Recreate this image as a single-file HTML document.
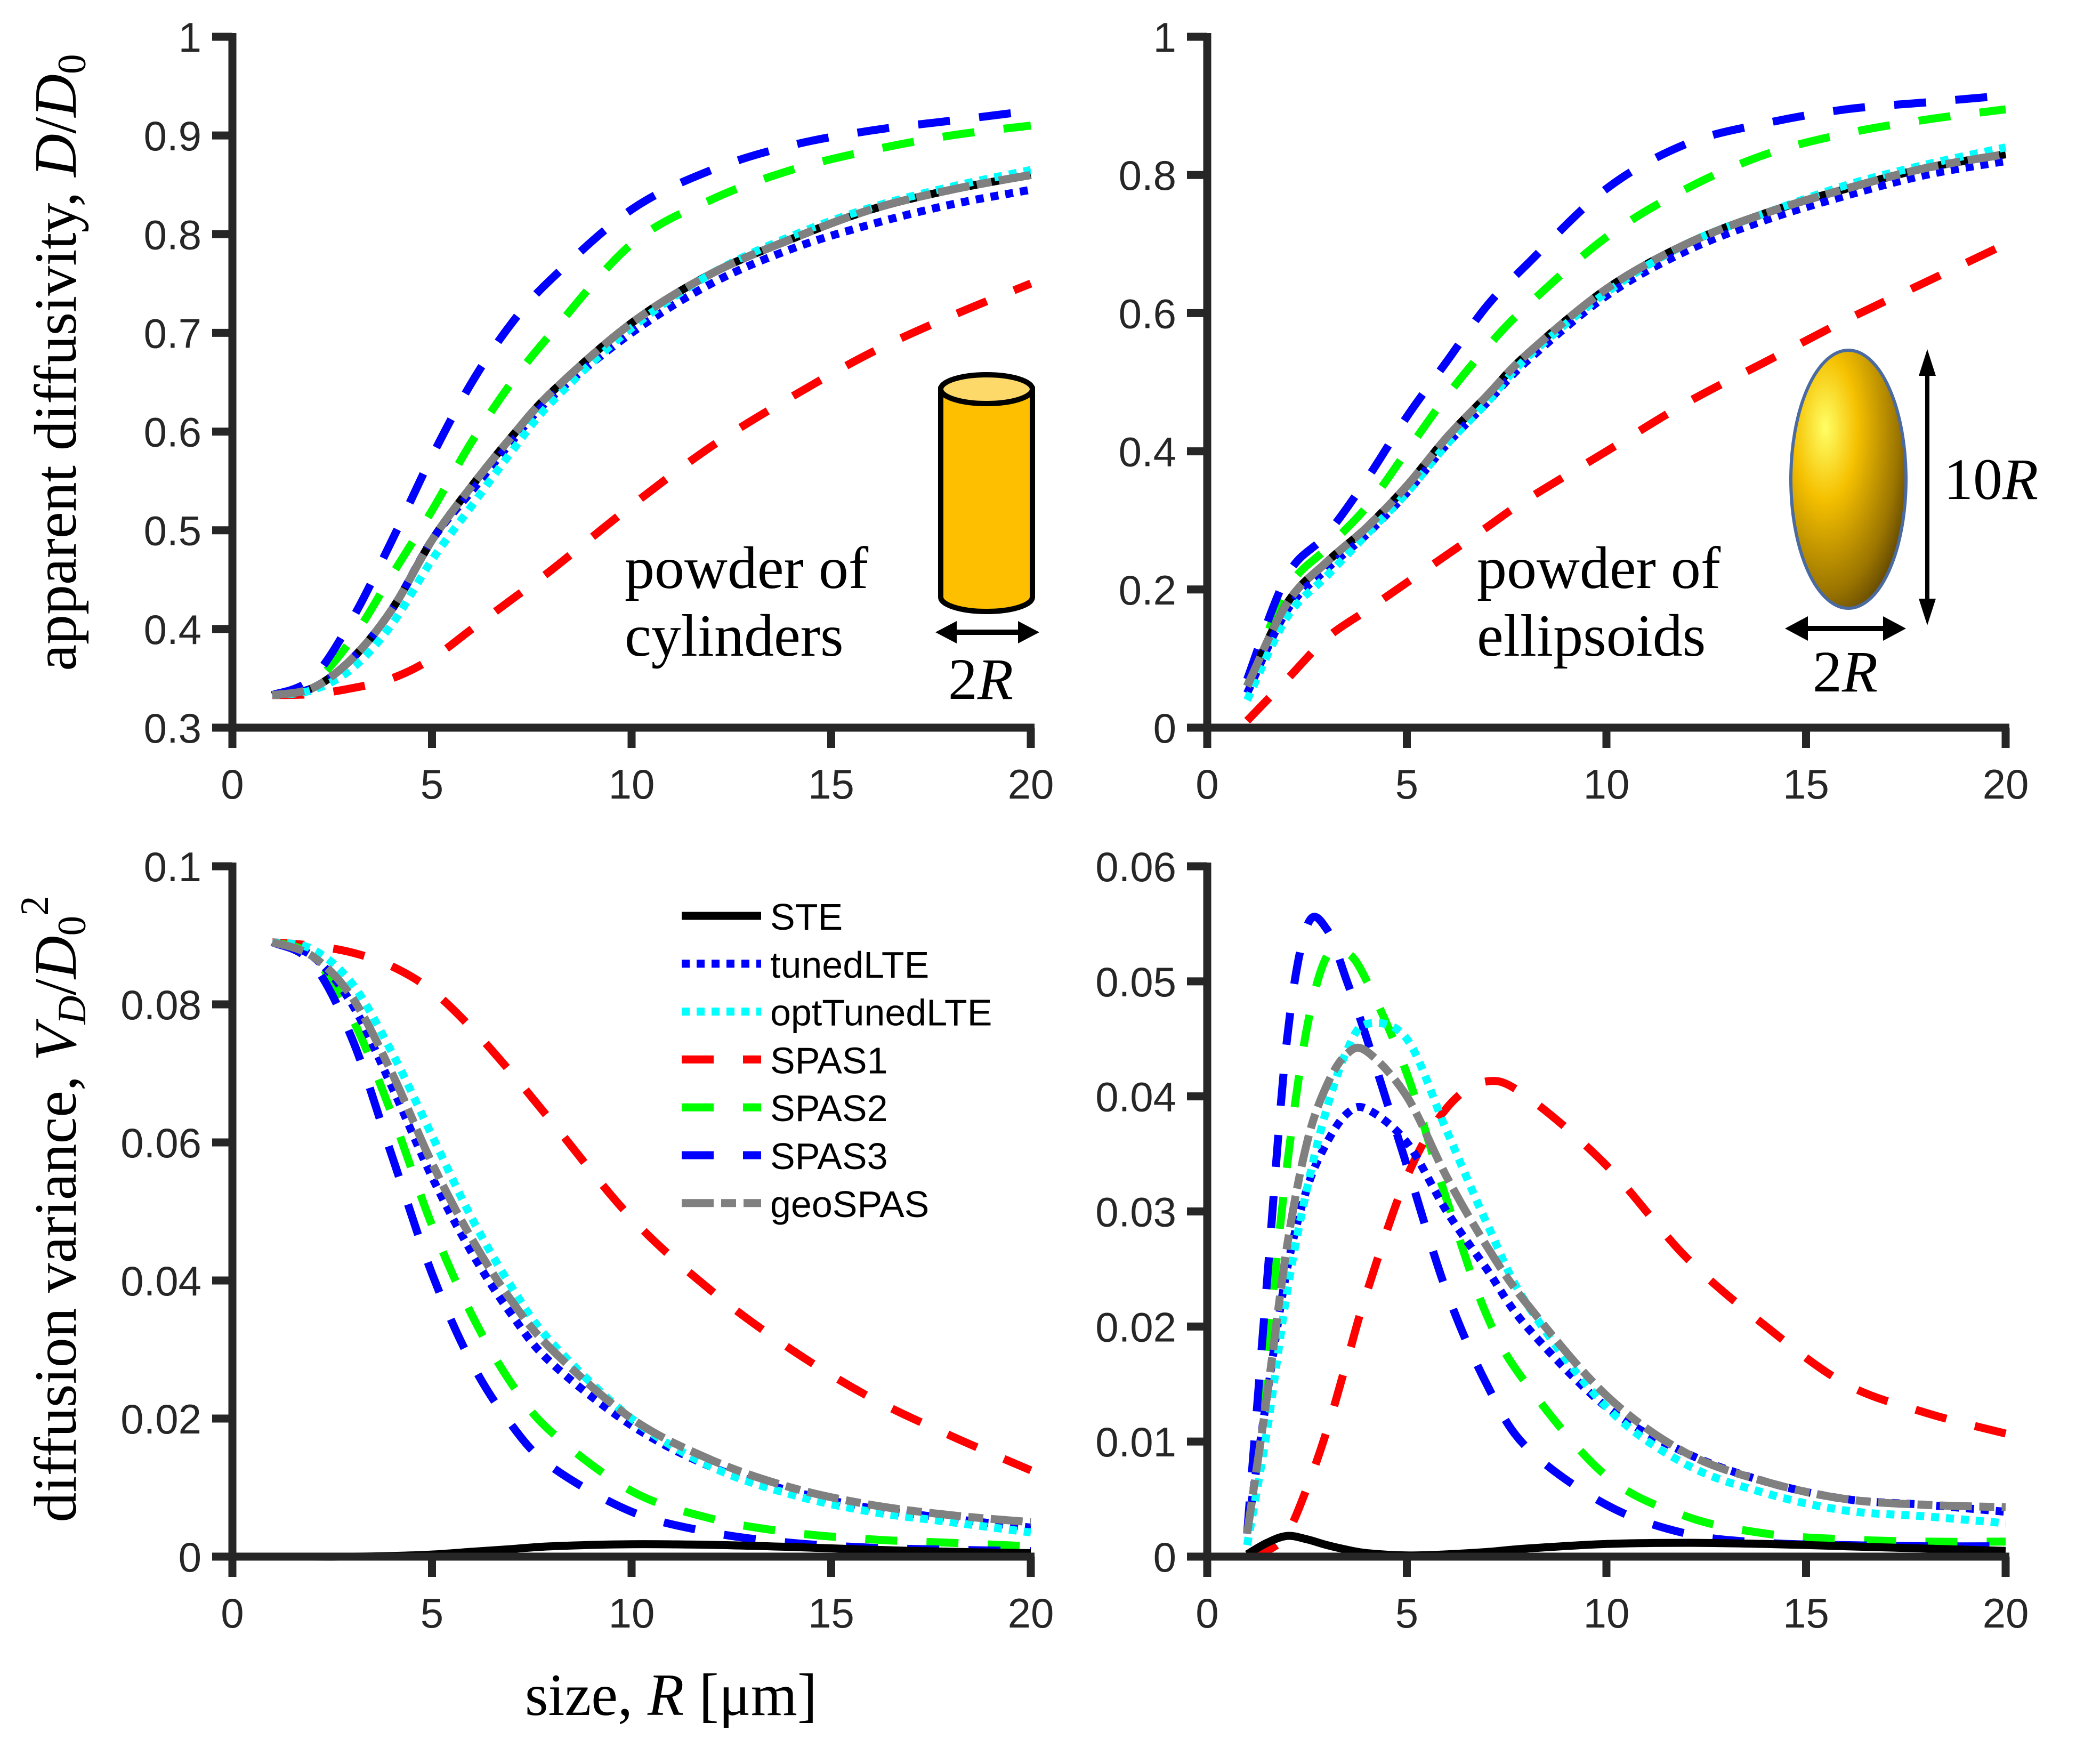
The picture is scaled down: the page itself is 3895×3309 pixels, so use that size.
<!DOCTYPE html>
<html><head><meta charset="utf-8"><style>
html,body{margin:0;padding:0;background:#fff;}
svg{display:block;}
text{font-family:"Liberation Sans",sans-serif;}
.tick{font-size:78px;fill:#262626;}
.serif{font-family:"Liberation Serif",serif;fill:#000;}
</style></head><body>
<svg id="fig" xmlns="http://www.w3.org/2000/svg" width="3895" height="3309" viewBox="0 0 3895 3309">
<defs>
<radialGradient id="gold" cx="0.3" cy="0.3" r="0.8">
<stop offset="0" stop-color="#ffff66"/><stop offset="0.35" stop-color="#f5c000"/><stop offset="0.8" stop-color="#9a7400"/><stop offset="1" stop-color="#5e4500"/>
</radialGradient>
</defs>
<g id="plots"></g>
<g id="insets">
  <g>
    <path d="M1765,730 L1765,1120 A86,27 0 0 0 1937,1120 L1937,730 Z" fill="#fdbf00" stroke="#000" stroke-width="10"/>
    <ellipse cx="1851" cy="730" rx="86" ry="27" fill="#fdd96a" stroke="#000" stroke-width="10"/>
    <line x1="1790" y1="1186" x2="1915" y2="1186" stroke="#000" stroke-width="10"/>
    <polygon points="1755,1186 1795,1165 1795,1207" fill="#000"/>
    <polygon points="1950,1186 1910,1165 1910,1207" fill="#000"/>
    <text class="serif" x="1840" y="1311" font-size="110" text-anchor="middle">2<tspan font-style="italic">R</tspan></text>
  </g>
  <text class="serif" x="1172" y="1103" font-size="112">powder of</text>
  <text class="serif" x="1172" y="1230" font-size="112">cylinders</text>
  <g>
    <ellipse cx="3468" cy="899" rx="108" ry="242" fill="url(#gold)" stroke="#4a6aa0" stroke-width="6"/>
    <line x1="3616" y1="700" x2="3616" y2="1130" stroke="#000" stroke-width="8"/>
    <polygon points="3616,655 3600,705 3632,705" fill="#000"/>
    <polygon points="3616,1173 3600,1123 3632,1123" fill="#000"/>
    <line x1="3385" y1="1179" x2="3540" y2="1179" stroke="#000" stroke-width="10"/>
    <polygon points="3349,1179 3392,1156 3392,1202" fill="#000"/>
    <polygon points="3576,1179 3533,1156 3533,1202" fill="#000"/>
    <text class="serif" x="3462" y="1297" font-size="110" text-anchor="middle">2<tspan font-style="italic">R</tspan></text>
    <text class="serif" x="3647" y="936" font-size="110">10<tspan font-style="italic">R</tspan></text>
  </g>
  <text class="serif" x="2771" y="1103" font-size="112">powder of</text>
  <text class="serif" x="2771" y="1230" font-size="112">ellipsoids</text>
</g>
<text class="serif" transform="translate(142,680) rotate(-90)" font-size="112" text-anchor="middle">apparent diffusivity, <tspan font-style="italic">D</tspan>/<tspan font-style="italic">D</tspan><tspan font-size="75" dy="18">0</tspan></text>
<text class="serif" transform="translate(142,2268) rotate(-90)" font-size="112" text-anchor="middle">diffusion variance, <tspan font-style="italic">V</tspan><tspan font-size="75" dy="18" font-style="italic">D</tspan><tspan dy="-18">/</tspan><tspan font-style="italic">D</tspan><tspan font-size="75" dy="18">0</tspan><tspan font-size="75" dy="-70">2</tspan></text>
<text class="serif" x="1259" y="3217" font-size="112" text-anchor="middle">size, <tspan font-style="italic">R</tspan> [μm]</text>
<g id="legend"></g>
</svg>
<script>
const NS = "http://www.w3.org/2000/svg";
// x sample positions (size R in um)
const xA = [1,2,3,4,5,6,7,8,10,12,14,16,18,20];
const xD = [1,1.5,2,2.5,3,3.5,4,5,6,7,8,10,12,14,16,18,20];
// Panel A: cylinders D/D0
const aSTE = [0.333,0.34,0.37,0.42,0.49,0.545,0.595,0.64,0.71,0.76,0.795,0.825,0.845,0.86];
const aTuned = [0.333,0.34,0.37,0.42,0.49,0.54,0.59,0.635,0.70,0.75,0.785,0.81,0.83,0.845];
const aOpt = [0.333,0.338,0.36,0.405,0.47,0.525,0.58,0.63,0.705,0.76,0.798,0.827,0.848,0.865];
const aS1 = [0.333,0.334,0.34,0.35,0.37,0.40,0.43,0.46,0.525,0.585,0.635,0.68,0.717,0.75];
const aS2 = [0.333,0.345,0.39,0.455,0.52,0.59,0.65,0.70,0.79,0.835,0.865,0.885,0.9,0.91];
const aS3 = [0.333,0.35,0.41,0.49,0.575,0.65,0.71,0.755,0.825,0.865,0.89,0.905,0.915,0.925];
const aGeo = [0.333,0.34,0.37,0.42,0.49,0.545,0.595,0.64,0.71,0.76,0.795,0.825,0.845,0.86];
// Panel B: ellipsoids D/D0
const bSTE = [0.06,0.18,0.24,0.29,0.35,0.42,0.48,0.54,0.635,0.70,0.745,0.78,0.81,0.83];
const bTuned = [0.05,0.17,0.23,0.28,0.34,0.41,0.47,0.53,0.625,0.69,0.735,0.77,0.80,0.82];
const bOpt = [0.04,0.16,0.22,0.28,0.34,0.41,0.47,0.535,0.63,0.70,0.745,0.785,0.815,0.84];
const bS1 = [0.01,0.07,0.13,0.17,0.21,0.25,0.29,0.33,0.40,0.47,0.53,0.59,0.645,0.70];
const bS2 = [0.06,0.20,0.26,0.32,0.40,0.48,0.55,0.61,0.71,0.78,0.83,0.86,0.88,0.895];
const bS3 = [0.07,0.22,0.28,0.36,0.45,0.53,0.61,0.67,0.78,0.845,0.875,0.895,0.905,0.915];
const bGeo = [0.06,0.18,0.24,0.29,0.35,0.42,0.48,0.54,0.635,0.70,0.745,0.78,0.81,0.83];
// Panel C: cylinders variance
const cSTE = [0,0,0,0.0001,0.0003,0.0007,0.0011,0.0015,0.0018,0.0017,0.0014,0.001,0.0007,0.0005];
const cTuned = [0.089,0.087,0.080,0.068,0.055,0.044,0.035,0.028,0.019,0.013,0.0095,0.007,0.0055,0.0042];
const cOpt = [0.089,0.088,0.083,0.073,0.061,0.049,0.039,0.031,0.020,0.013,0.009,0.0065,0.005,0.0035];
const cS1 = [0.089,0.0885,0.0875,0.0855,0.082,0.0765,0.070,0.063,0.049,0.0385,0.030,0.023,0.0175,0.0125];
const cS2 = [0.089,0.087,0.078,0.064,0.048,0.035,0.025,0.018,0.0095,0.0055,0.0035,0.0025,0.002,0.0015];
const cS3 = [0.089,0.086,0.075,0.058,0.041,0.028,0.019,0.013,0.0065,0.0035,0.002,0.0013,0.001,0.0008];
const cGeo = [0.089,0.087,0.081,0.070,0.057,0.046,0.037,0.030,0.020,0.014,0.010,0.0075,0.006,0.005];
// Panel D: ellipsoids variance
const dSTE = [0.0002,0.0012,0.0018,0.0015,0.001,0.0006,0.0003,0.0001,0.0002,0.0004,0.0007,0.0011,0.0012,0.0011,0.0009,0.0007,0.0005];
const dTuned = [0.002,0.014,0.025,0.032,0.036,0.0385,0.0389,0.036,0.030,0.025,0.020,0.013,0.009,0.0065,0.005,0.0045,0.0039];
const dOpt = [0.001,0.011,0.023,0.032,0.039,0.044,0.0463,0.045,0.037,0.029,0.022,0.013,0.008,0.0055,0.004,0.0035,0.0029];
const dS1 = [0,0.0005,0.002,0.006,0.011,0.017,0.023,0.033,0.039,0.0413,0.040,0.034,0.026,0.020,0.015,0.0125,0.0107];
const dS2 = [0.002,0.018,0.034,0.046,0.0522,0.0525,0.050,0.042,0.031,0.021,0.015,0.007,0.0035,0.002,0.0015,0.0013,0.0013];
const dS3 = [0.002,0.024,0.045,0.0548,0.0545,0.050,0.045,0.034,0.023,0.015,0.0095,0.0045,0.002,0.0012,0.001,0.0009,0.0009];
const dGeo = [0.002,0.014,0.027,0.036,0.041,0.0437,0.0439,0.040,0.033,0.027,0.022,0.014,0.009,0.0065,0.005,0.0045,0.0043];
// tick labels
const xTicks = [0,5,10,15,20];
const yTicksA = ["0.3","0.4","0.5","0.6","0.7","0.8","0.9","1"];
const yTicksB = ["0","0.2","0.4","0.6","0.8","1"];
const yTicksC = ["0","0.02","0.04","0.06","0.08","0.1"];
const yTicksD = ["0","0.01","0.02","0.03","0.04","0.05","0.06"];
const seriesNames = ["STE","tunedLTE","optTunedLTE","SPAS1","SPAS2","SPAS3","geoSPAS"];

const styles = {
  STE:{c:"#000",d:null},
  tunedLTE:{c:"#0000ff",d:"15 13"},
  optTunedLTE:{c:"#00ffff",d:"15 13"},
  SPAS1:{c:"#ff0000",d:"60 55"},
  SPAS2:{c:"#00ff00",d:"60 55"},
  SPAS3:{c:"#0000ff",d:"60 55"},
  geoSPAS:{c:"#808080",d:"60 14 28 14"}
};
const drawOrder = ["SPAS1","SPAS2","SPAS3","STE","tunedLTE","optTunedLTE","geoSPAS"];

const panels = [
  {name:"cylinders-diffusivity",x0:436,x1:1934,yTop:69,yBot:1365,ymin:0.3,ymax:1,yt:yTicksA,xs:xA,
   data:{STE:aSTE,tunedLTE:aTuned,optTunedLTE:aOpt,SPAS1:aS1,SPAS2:aS2,SPAS3:aS3,geoSPAS:aGeo}},
  {name:"ellipsoids-diffusivity",x0:2265,x1:3763,yTop:69,yBot:1365,ymin:0,ymax:1,yt:yTicksB,xs:xA,
   data:{STE:bSTE,tunedLTE:bTuned,optTunedLTE:bOpt,SPAS1:bS1,SPAS2:bS2,SPAS3:bS3,geoSPAS:bGeo}},
  {name:"cylinders-variance",x0:436,x1:1934,yTop:1625,yBot:2920,ymin:0,ymax:0.1,yt:yTicksC,xs:xA,
   data:{STE:cSTE,tunedLTE:cTuned,optTunedLTE:cOpt,SPAS1:cS1,SPAS2:cS2,SPAS3:cS3,geoSPAS:cGeo}},
  {name:"ellipsoids-variance",x0:2265,x1:3763,yTop:1625,yBot:2920,ymin:0,ymax:0.06,yt:yTicksD,xs:xD,
   data:{STE:dSTE,tunedLTE:dTuned,optTunedLTE:dOpt,SPAS1:dS1,SPAS2:dS2,SPAS3:dS3,geoSPAS:dGeo}}
];

function mk(tag, attrs, parent){
  const e = document.createElementNS(NS, tag);
  for (const k in attrs) e.setAttribute(k, attrs[k]);
  parent.appendChild(e);
  return e;
}
function smoothPath(pts){
  let d = "M"+pts[0][0].toFixed(1)+","+pts[0][1].toFixed(1);
  for (let i=0;i<pts.length-1;i++){
    const p0=pts[Math.max(0,i-1)], p1=pts[i], p2=pts[i+1], p3=pts[Math.min(pts.length-1,i+2)];
    const c1=[p1[0]+(p2[0]-p0[0])/6, p1[1]+(p2[1]-p0[1])/6];
    const c2=[p2[0]-(p3[0]-p1[0])/6, p2[1]-(p3[1]-p1[1])/6];
    d += " C"+c1[0].toFixed(1)+","+c1[1].toFixed(1)+" "+c2[0].toFixed(1)+","+c2[1].toFixed(1)+" "+p2[0].toFixed(1)+","+p2[1].toFixed(1);
  }
  return d;
}
const root = document.getElementById("plots");
panels.forEach(p=>{
  const g = mk("g",{},root);
  
  
  const xScale = v => p.x0 + (v-0)/(20-0)*(p.x1-p.x0);
  const yScale = v => p.yBot - (v-p.ymin)/(p.ymax-p.ymin)*(p.yBot-p.yTop);
  drawOrder.forEach(s=>{
    const vals = p.data[s];
    const pts = p.xs.map((x,i)=>[xScale(x), yScale(vals[i])]);
    const st = styles[s];
    const path = mk("path",{d:smoothPath(pts),fill:"none",stroke:st.c,"stroke-width":15,"stroke-linejoin":"round"},g);
    if (st.d) path.setAttribute("stroke-dasharray", st.d);
    
    
  });
  const ax = mk("g",{stroke:"#262626","stroke-width":15,fill:"none"},g);
  
  
  mk("line",{x1:p.x0,y1:p.yTop-7,x2:p.x0,y2:p.yBot+7},ax);
  mk("line",{x1:p.x0-7,y1:p.yBot,x2:p.x1+7,y2:p.yBot},ax);
  xTicks.forEach(t=>{
    const x = xScale(t);
    mk("line",{x1:x,y1:p.yBot,x2:x,y2:p.yBot+38},ax);
    const tx = mk("text",{x:x,y:p.yBot+133,"text-anchor":"middle",class:"tick"},g);
    tx.textContent = t;
    
    
  });
  p.yt.forEach(t=>{
    const y = yScale(parseFloat(t));
    mk("line",{x1:p.x0-38,y1:y,x2:p.x0,y2:y},ax);
    const ty = mk("text",{x:p.x0-58,y:y+28,"text-anchor":"end",class:"tick"},g);
    ty.textContent = t;
    
    
  });
});
const lg = document.getElementById("legend");
seriesNames.forEach((s,i)=>{
  const y = 1718 + i*89.8;
  const st = styles[s];
  const e = mk("g",{},lg);
  
  
  const ln = mk("line",{x1:1279,y1:y,x2:1428,y2:y,stroke:st.c,"stroke-width":15},e);
  if (st.d) ln.setAttribute("stroke-dasharray", st.d);
  const t = mk("text",{x:1445,y:y+26,"font-size":70,fill:"#000"},e);
  t.textContent = s;
});
</script>
</body></html>
